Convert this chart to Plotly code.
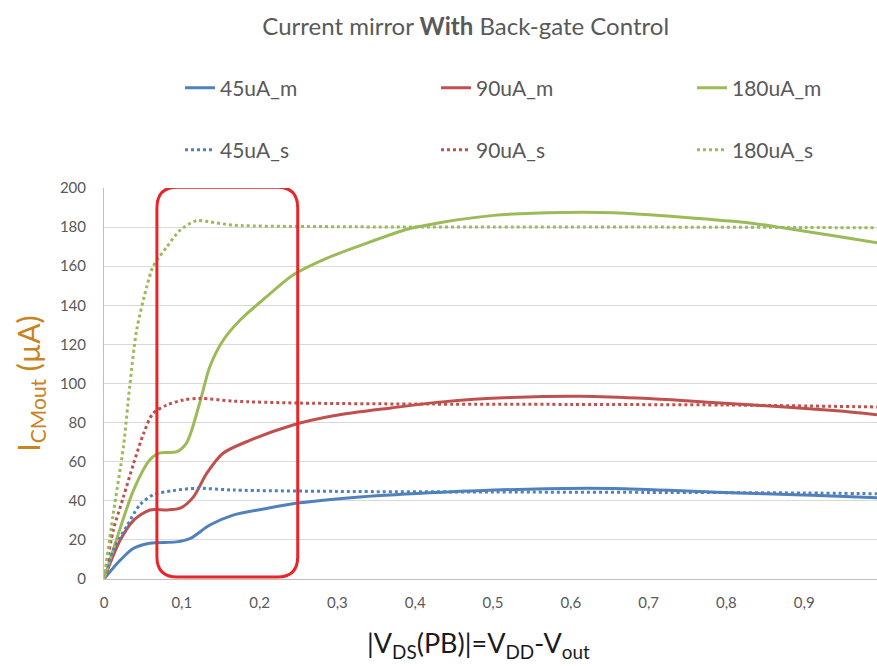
import plotly.graph_objects as go

# ---------------- data ----------------
x_45m = [0, 0.021, 0.038, 0.059, 0.093, 0.111, 0.136, 0.166, 0.209, 0.252, 0.329, 0.435, 0.567, 0.655, 0.787, 0.919, 0.994]
y_45m = [0, 9.7, 15.7, 18.3, 19, 20.8, 27.6, 32.7, 36.1, 39, 42, 44.4, 46.2, 46.3, 44.4, 42.7, 41.5]

x_90m = [0, 0.021, 0.038, 0.059, 0.081, 0.098, 0.115, 0.132, 0.153, 0.188, 0.243, 0.295, 0.369, 0.435, 0.523, 0.612, 0.7, 0.787, 0.875, 0.942, 0.994]
y_90m = [0, 20, 30, 35.3, 35.3, 36.2, 42, 54, 64.3, 71, 78.8, 83.5, 87.5, 90.6, 92.8, 93.5, 92.3, 90.1, 88, 86, 84]

x_180m = [0, 0.02, 0.038, 0.059, 0.072, 0.093, 0.106, 0.123, 0.136, 0.153, 0.175, 0.209, 0.243, 0.286, 0.329, 0.391, 0.435, 0.501, 0.59, 0.655, 0.744, 0.832, 0.875, 0.942, 0.994]
y_180m = [0, 25, 45.5, 61, 64.5, 65, 69.5, 90, 108.6, 122, 132.5, 144.4, 155.5, 164, 170.5, 179, 182.5, 186, 187.5, 187.3, 185, 182, 179.5, 175.3, 172]

x_45s = [0, 0.012, 0.029, 0.046, 0.063, 0.089, 0.119, 0.166, 0.3, 0.5, 0.7, 0.9, 0.994]
y_45s = [0, 14.8, 26.8, 37.9, 43, 45.2, 46.4, 45.5, 44.8, 44.5, 44.3, 44, 43.6]

x_90s = [0, 0.012, 0.025, 0.038, 0.051, 0.063, 0.081, 0.102, 0.123, 0.166, 0.25, 0.4, 0.6, 0.8, 0.994]
y_90s = [0, 25, 42, 59, 74.5, 84.7, 89, 91.6, 92.4, 91, 90, 89.5, 89.3, 89, 88]

x_180s = [0, 0.012, 0.025, 0.033, 0.042, 0.055, 0.063, 0.081, 0.098, 0.119, 0.136, 0.166, 0.3, 0.5, 0.7, 0.9, 0.994]
y_180s = [0, 33.6, 67.7, 98.4, 127.4, 149.5, 159.8, 170, 178.5, 183.3, 182.7, 181, 180.2, 180, 180, 179.8, 179.6]

x_ticks = [0, 0.1, 0.2, 0.3, 0.4, 0.5, 0.6, 0.7, 0.8, 0.9, 1.0]
x_tick_labels = ["0", "0,1", "0,2", "0,3", "0,4", "0,5", "0,6", "0,7", "0,8", "0,9", "1"]
y_ticks = [0, 20, 40, 60, 80, 100, 120, 140, 160, 180, 200]

# highlighted region (data units)
box_x = [0.068, 0.249]
box_y = [1.0, 200.4]

# ---------------- styling ----------------
BLUE = "#4F81BD"
RED = "#C0504D"
GREEN = "#9BBB59"
FONT = "Lato, 'Open Sans', sans-serif"
GRAY = "#595959"

fig = go.Figure()

def add(x, y, name, color, dotted, legend):
    fig.add_trace(go.Scatter(
        x=x, y=y, name=name, mode="lines", legend=legend,
        line=dict(color=color, width=3, shape="spline", smoothing=0.8,
                  dash="3px,3px" if dotted else "solid"),
    ))

add(x_45m, y_45m, "45uA_m", BLUE, False, "legend")
add(x_90m, y_90m, "90uA_m", RED, False, "legend")
add(x_180m, y_180m, "180uA_m", GREEN, False, "legend")
add(x_45s, y_45s, "45uA_s", BLUE, True, "legend2")
add(x_90s, y_90s, "90uA_s", RED, True, "legend2")
add(x_180s, y_180s, "180uA_s", GREEN, True, "legend2")

# rounded rectangle highlight
x0, x1 = box_x
y0, y1 = box_y
rx, ry = 0.026, 10.5
path = (f"M {x0+rx},{y0} L {x1-rx},{y0} Q {x1},{y0} {x1},{y0+ry} "
        f"L {x1},{y1-ry} Q {x1},{y1} {x1-rx},{y1} L {x0+rx},{y1} "
        f"Q {x0},{y1} {x0},{y1-ry} L {x0},{y0+ry} Q {x0},{y0} {x0+rx},{y0} Z")
fig.add_shape(type="path", path=path, xref="x", yref="y",
              line=dict(color="#E8262A", width=3), fillcolor="rgba(0,0,0,0)")

legend_common = dict(
    orientation="h", xref="container", yref="container",
    xanchor="left", yanchor="middle",
    entrywidth=211, entrywidthmode="pixels",
    font=dict(family=FONT, size=21, color=GRAY),
    bgcolor="rgba(0,0,0,0)", itemclick=False, itemdoubleclick=False,
)

fig.add_annotation(
    text="|V<sub>DS</sub>(PB)|=V<sub>DD</sub>-V<sub>out</sub>",
    xref="paper", yref="paper", x=0.484, y=-0.168, xanchor="center", yanchor="middle",
    showarrow=False, font=dict(family=FONT, size=27, color="#1A1A1A"),
)

fig.update_layout(
    width=877, height=666,
    margin=dict(l=104, r=0, t=188, b=87, autoexpand=False),
    paper_bgcolor="white", plot_bgcolor="white",
    font=dict(family=FONT, color=GRAY),
    title=dict(text="Current mirror <b>With</b> Back-gate Control",
               x=0.531, xanchor="center", y=1 - 27 / 666, yanchor="middle",
               font=dict(family=FONT, size=24, color=GRAY)),
    legend=dict(x=180 / 877, y=1 - 88 / 666, **legend_common),
    legend2=dict(x=180 / 877, y=1 - 150 / 666, **legend_common),
    showlegend=True,
    xaxis=dict(
        range=[0, 0.9936], tickvals=x_ticks, ticktext=x_tick_labels,
        showgrid=False, zeroline=False, showline=True, linecolor="#BFBFBF", linewidth=1,
        ticks="", ticklabelstandoff=10,
        tickfont=dict(family=FONT, size=15, color=GRAY),
    ),
    yaxis=dict(
        range=[0, 200], tickvals=y_ticks,
        showgrid=True, gridcolor="#D9D9D9", gridwidth=1,
        zeroline=False, showline=True, linecolor="#BFBFBF", linewidth=1,
        ticks="", ticklabelstandoff=14,
        tickfont=dict(family=FONT, size=15, color=GRAY),
        title=dict(text="I<sub>CMout</sub> (µA)",
                   font=dict(family=FONT, size=30, color="#C8841E"), standoff=10),
    ),
)

fig.write_html("out.html", config={"displayModeBar": False})

# remove the default page margin so the figure sits at the window origin
with open("out.html", "r", encoding="utf-8") as f:
    html = f.read()
html = html.replace("<head>", "<head><style>html,body{margin:0;padding:0;overflow:hidden;}</style>", 1)
with open("out.html", "w", encoding="utf-8") as f:
    f.write(html)
